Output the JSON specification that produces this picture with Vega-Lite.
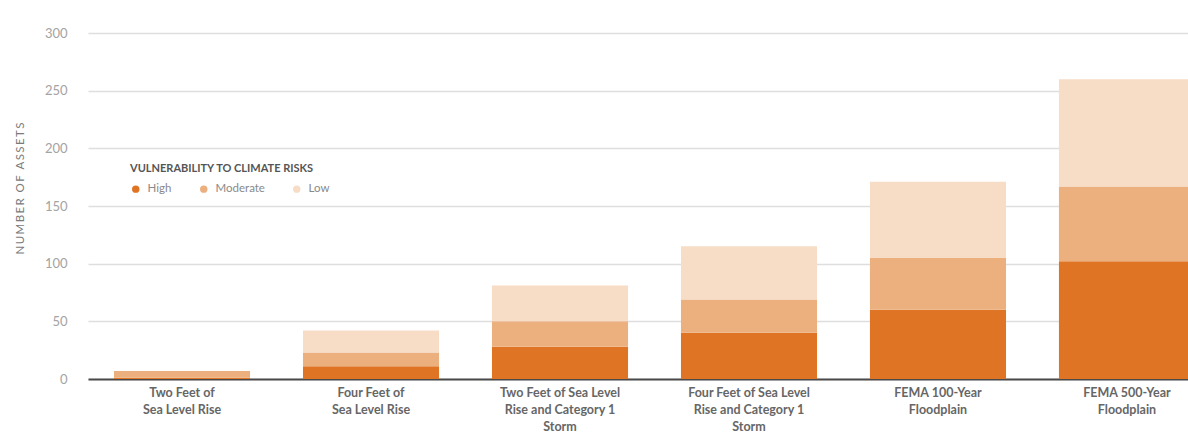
{
  "$schema": "https://vega.github.io/schema/vega-lite/v6.json",
  "autosize": {"type": "none"},
  "width": 1100,
  "height": 346,
  "padding": {"left": 88, "top": 33, "right": 0, "bottom": 63},
  "background": "#ffffff",
  "data": {
    "values": [
      {"scenario": "Two Feet of Sea Level Rise", "vulnerability": "High", "assets": 1},
      {"scenario": "Two Feet of Sea Level Rise", "vulnerability": "Moderate", "assets": 6},
      {"scenario": "Two Feet of Sea Level Rise", "vulnerability": "Low", "assets": 0},
      {"scenario": "Four Feet of Sea Level Rise", "vulnerability": "High", "assets": 11},
      {"scenario": "Four Feet of Sea Level Rise", "vulnerability": "Moderate", "assets": 12},
      {"scenario": "Four Feet of Sea Level Rise", "vulnerability": "Low", "assets": 19},
      {"scenario": "Two Feet of Sea Level Rise and Category 1 Storm", "vulnerability": "High", "assets": 28},
      {"scenario": "Two Feet of Sea Level Rise and Category 1 Storm", "vulnerability": "Moderate", "assets": 22},
      {"scenario": "Two Feet of Sea Level Rise and Category 1 Storm", "vulnerability": "Low", "assets": 31},
      {"scenario": "Four Feet of Sea Level Rise and Category 1 Storm", "vulnerability": "High", "assets": 40},
      {"scenario": "Four Feet of Sea Level Rise and Category 1 Storm", "vulnerability": "Moderate", "assets": 29},
      {"scenario": "Four Feet of Sea Level Rise and Category 1 Storm", "vulnerability": "Low", "assets": 46},
      {"scenario": "FEMA 100-Year Floodplain", "vulnerability": "High", "assets": 60},
      {"scenario": "FEMA 100-Year Floodplain", "vulnerability": "Moderate", "assets": 45},
      {"scenario": "FEMA 100-Year Floodplain", "vulnerability": "Low", "assets": 66},
      {"scenario": "FEMA 500-Year Floodplain", "vulnerability": "High", "assets": 102},
      {"scenario": "FEMA 500-Year Floodplain", "vulnerability": "Moderate", "assets": 65},
      {"scenario": "FEMA 500-Year Floodplain", "vulnerability": "Low", "assets": 93}
    ]
  },
  "transform": [
    {"calculate": "indexof(['High', 'Moderate', 'Low'], datum.vulnerability)", "as": "stackRank"}
  ],
  "mark": {"type": "bar"},
  "encoding": {
    "x": {
      "field": "scenario",
      "type": "nominal",
      "sort": null,
      "scale": {"range": [0, 1133], "paddingInner": 0.28, "paddingOuter": 0.1375},
      "axis": {
        "title": null,
        "labelAngle": 0,
        "ticks": false,
        "domainColor": "#4a4a4a",
        "domainWidth": 2,
        "labelPadding": 7,
        "labelFont": "Lato",
        "labelFontSize": 12.5,
        "labelFontWeight": "bold",
        "labelColor": "#666666",
        "labelLineHeight": 17,
        "labelExpr": "datum.value == 'Two Feet of Sea Level Rise' ? ['Two Feet of', 'Sea Level Rise'] : datum.value == 'Four Feet of Sea Level Rise' ? ['Four Feet of', 'Sea Level Rise'] : datum.value == 'Two Feet of Sea Level Rise and Category 1 Storm' ? ['Two Feet of Sea Level', 'Rise and Category 1', 'Storm'] : datum.value == 'Four Feet of Sea Level Rise and Category 1 Storm' ? ['Four Feet of Sea Level', 'Rise and Category 1', 'Storm'] : datum.value == 'FEMA 100-Year Floodplain' ? ['FEMA 100-Year', 'Floodplain'] : ['FEMA 500-Year', 'Floodplain']"
      }
    },
    "y": {
      "field": "assets",
      "type": "quantitative",
      "stack": "zero",
      "scale": {"domain": [0, 300], "nice": false},
      "axis": {
        "title": "N\u2009U\u2009M\u2009B\u2009E\u2009R\u2002O\u2009F\u2002A\u2009S\u2009S\u2009E\u2009T\u2009S",
        "titleFont": "Lato",
        "titleFontSize": 11.5,
        "titleFontWeight": "normal",
        "titleColor": "#7a7a7a",
        "titleX": -63,
        "titleY": 155,
        "values": [0, 50, 100, 150, 200, 250, 300],
        "ticks": false,
        "domain": false,
        "labelFont": "Lato",
        "labelFontSize": 13,
        "labelColor": "#a3a3a3",
        "labelPadding": 21,
        "gridColor": "#dedede",
        "gridWidth": 1.5
      }
    },
    "color": {
      "field": "vulnerability",
      "type": "nominal",
      "sort": ["High", "Moderate", "Low"],
      "scale": {"domain": ["High", "Moderate", "Low"], "range": ["#de7424", "#ecb07f", "#f7dcc6"]},
      "legend": {
        "title": "VULNERABILITY TO CLIMATE RISKS",
        "orient": "none",
        "legendX": 42,
        "legendY": 130,
        "direction": "horizontal",
        "titleFont": "Lato",
        "titleFontSize": 11,
        "titleFontWeight": "bold",
        "titleColor": "#555555",
        "titleLimit": 400,
        "titlePadding": 9,
        "symbolType": "circle",
        "symbolSize": 55,
        "symbolStrokeWidth": 0,
        "labelFont": "Lato",
        "labelFontSize": 11.5,
        "labelColor": "#8a8a8a",
        "columnPadding": 26,
        "labelOffset": 6
      }
    },
    "order": {"field": "stackRank", "type": "quantitative", "sort": "ascending"}
  },
  "config": {
    "view": {"stroke": null}
  }
}
